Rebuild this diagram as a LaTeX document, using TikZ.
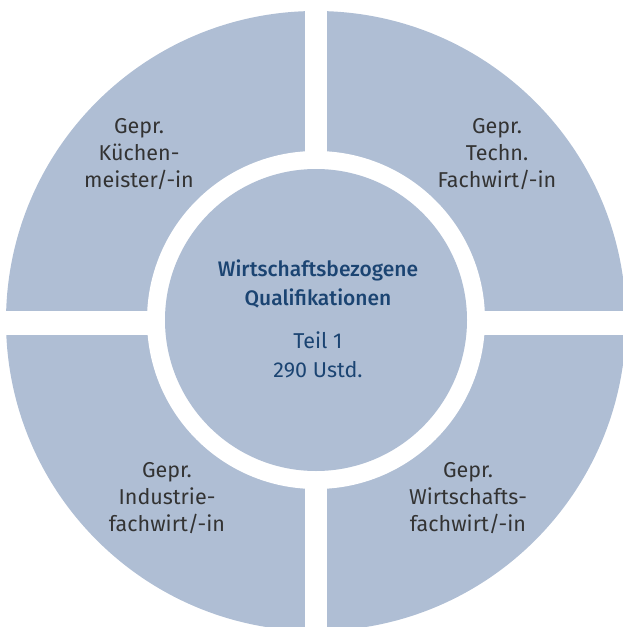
\documentclass[tikz,border=0pt]{standalone}
\usepackage{fontspec}
\setmainfont{Fira Sans}[BoldFont={Fira Sans Medium}]
\definecolor{ringblue}{HTML}{AFBED4}
\definecolor{labelgray}{HTML}{333333}
\definecolor{titleblue}{HTML}{1B4472}
\tikzset{
  quadlabel/.style={align=center, text=labelgray, font=\fontsize{21.5}{27}\selectfont},
  centerlabel/.style={align=center, text=titleblue, font=\fontsize{21.5}{28.5}\selectfont}
}
\begin{document}
\begin{tikzpicture}[x=1pt,y=-1pt]
        \useasboundingbox (0,0) rectangle (623,627);
        \clip (0,0) rectangle (623,627);
        % Draw the outer disc
        \fill[ringblue] (316,321) circle (310pt);
        % Cut the quarters apart
        \fill[white] (304.5,0) rectangle (327,627);
        \fill[white] (0,311) rectangle (623,335);
        % Draw the ring and the middle disc
        \fill[white] (316,320) circle (169pt);
        \fill[ringblue] (316,320) circle (151pt);
        % Labels of the quarters
        \node[quadlabel] (kueche) at (139,154) {Gepr.\\Küchen-\\meister/-in};
        \node[quadlabel] (techn) at (497,154) {Gepr.\\Techn.\\Fachwirt/-in};
        \node[quadlabel] (industrie) at (167,498) {Gepr.\\Industrie-\\fachwirt/-in};
        \node[quadlabel] (wirtschaft) at (468,498) {Gepr.\\Wirtschafts-\\fachwirt/-in};
        % Label of the middle
        \node[centerlabel, font=\bfseries\fontsize{21}{28.5}\selectfont] (quali) at (318,284) {Wirtschaftsbezogene\\Qualifikationen};
        \node[centerlabel] (teil) at (318,355) {Teil 1\\290 Ustd.};
    \end{tikzpicture}
\end{document}
